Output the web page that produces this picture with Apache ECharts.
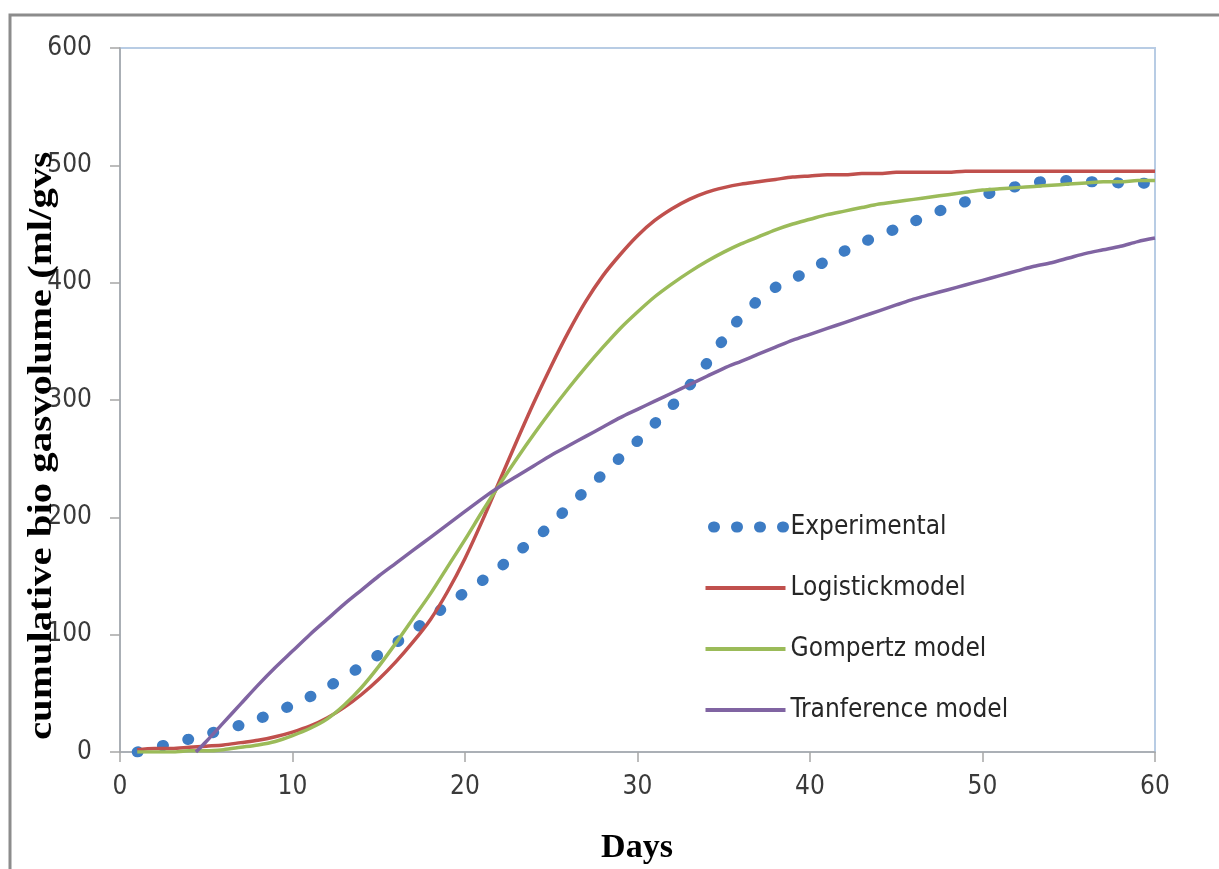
<!DOCTYPE html>
<html><head><meta charset="utf-8">
<script src="https://cdn.jsdelivr.net/npm/echarts@6/dist/echarts.min.js"></script>
<style>html,body{margin:0;padding:0;background:#fff}#c{width:1219px;height:869px}</style>
</head><body><div id="c"></div>
<script>
const days = [1,2,3,4,5,6,7,8,9,10,11,12,13,14,15,16,17,18,19,20,21,22,23,24,25,26,27,28,29,30,
  31,32,33,34,35,36,37,38,39,40,41,42,43,44,45,46,47,48,49,50,51,52,53,54,55,56,57,58,59,60];
const experimental = [0,4,7,11,15,19,23,28,34,40,47,55,64,73,83,93,104,114,126,136,
  146,157,170,181,194,209,223,237,251,265,280,295,312,331,352,371,385,396,403,411,
  419,427,434,440,446,452,458,464,469,474,479,482,485,487,487,486,486,485,485,484];
const logistic = [2,3,3,4,5,6,8,10,13,17,22,29,38,49,62,77,94,113,137,165,
  197,231,265,298,329,358,384,406,424,440,453,463,471,477,481,484,486,488,490,491,
  492,492,493,493,494,494,494,494,495,495,495,495,495,495,495,495,495,495,495,495];
const gompertz = [0,0,0,1,1,2,4,6,9,14,20,28,40,55,73,93,114,135,158,181,
  205,228,250,271,291,310,328,345,361,375,388,399,409,418,426,433,439,445,450,454,
  458,461,464,467,469,471,473,475,477,479,480,481,482,483,484,485,486,486,487,487];
const transDays = [4.4,5,6,7,8,9,10,11,12,13,14,15,16,17,18,19,20,21,22,23,24,25,26,27,28,29,30,
  31,32,33,34,35,36,37,38,39,40,41,42,43,44,45,46,47,48,49,50,51,52,53,54,55,56,57,58,59,60];
const transference = [0,9,25,41,57,72,86,100,113,126,138,150,161,172,183,194,205,216,226,235,244,253,261,269,277,285,292,
  299,306,313,320,327,333,339,345,351,356,361,366,371,376,381,386,390,394,398,402,406,410,414,417,421,425,428,431,435,438];
const seriesNames = ['Experimental','Logistickmodel','Gompertz model','Tranference model'];
const colors = ['#3d7cc4','#c0504d','#9bbb59','#8064a2'];

const pairs = (xs, ys) => xs.map((x, i) => [x, ys[i]]);
const narrow = "'Liberation Sans Narrow','DejaVu Sans Condensed','Liberation Sans',sans-serif";

const chart = echarts.init(document.getElementById('c'), null, {renderer: 'canvas'});
const dotStyle = {color: colors[0], width: 11, type: [1, 25], cap: 'round'};
const legendDotStyle = {color: colors[0], width: 11, type: [1, 22], cap: 'round', dashOffset: -8};
chart.setOption({
  animation: false,
  backgroundColor: '#ffffff',
  grid: {left: 120, right: 64, top: 48, bottom: 117, show: true, borderColor: '#b8cce4', borderWidth: 2, backgroundColor: 'transparent'},
  xAxis: {
    type: 'value', min: 0, max: 60, interval: 10,
    axisLine: {show: true, onZero: false, lineStyle: {color: '#a6a6a6', width: 1.5}},
    axisTick: {show: true, length: 10, lineStyle: {color: '#a6a6a6', width: 1.5}},
    splitLine: {show: false},
    axisLabel: {fontSize: 26, color: '#3a3a3a', margin: 22, fontFamily: narrow}
  },
  yAxis: {
    type: 'value', min: 0, max: 600, interval: 100,
    axisLine: {show: true, onZero: false, lineStyle: {color: '#a6a6a6', width: 1.5}},
    axisTick: {show: true, length: 10, lineStyle: {color: '#a6a6a6', width: 1.5}},
    splitLine: {show: false},
    axisLabel: {fontSize: 26, color: '#3a3a3a', margin: 28, fontFamily: narrow}
  },
  legend: {
    orient: 'vertical', left: 700, top: 514, itemWidth: 80, itemHeight: 14, itemGap: 35, padding: 0,
    textStyle: {fontSize: 26, color: '#262626', fontFamily: narrow},
    data: [
      {name: seriesNames[0], lineStyle: legendDotStyle, itemStyle: {opacity: 0}},
      {name: seriesNames[1], lineStyle: {width: 4}, itemStyle: {opacity: 0}},
      {name: seriesNames[2], lineStyle: {width: 4}, itemStyle: {opacity: 0}},
      {name: seriesNames[3], lineStyle: {width: 4}, itemStyle: {opacity: 0}}
    ]
  },
  series: [
    {name: seriesNames[0], type: 'line', data: pairs(days, experimental), smooth: 0.3, symbol: 'none',
      lineStyle: dotStyle, itemStyle: {color: colors[0]}},
    {name: seriesNames[1], type: 'line', data: pairs(days, logistic), smooth: 0.3, symbol: 'none',
      lineStyle: {color: colors[1], width: 3.5}, itemStyle: {color: colors[1]}},
    {name: seriesNames[2], type: 'line', data: pairs(days, gompertz), smooth: 0.3, symbol: 'none',
      lineStyle: {color: colors[2], width: 3.5}, itemStyle: {color: colors[2]}},
    {name: seriesNames[3], type: 'line', data: pairs(transDays, transference), smooth: 0.3, symbol: 'none',
      lineStyle: {color: colors[3], width: 3.5}, itemStyle: {color: colors[3]}}
  ],
  graphic: [
    {type: 'polyline', z: 100, shape: {points: [[10, 872], [10, 15], [1225, 15]]}, style: {stroke: '#8c8c8c', lineWidth: 3, fill: null}},
    {type: 'text', z: 100, x: 42, y: 446, rotation: Math.PI / 2, scaleX: 1.2,
      style: {text: 'cumulative bio gasvolume (ml/gvs', font: "bold 34px 'Liberation Serif', 'Times New Roman', serif",
        fill: '#000', align: 'center', verticalAlign: 'middle'}},
    {type: 'text', z: 100, x: 637, y: 848, style: {text: 'Days', font: "bold 34px 'Liberation Serif', 'Times New Roman', serif",
      fill: '#000', align: 'center', verticalAlign: 'middle'}}
  ]
});
</script></body></html>
